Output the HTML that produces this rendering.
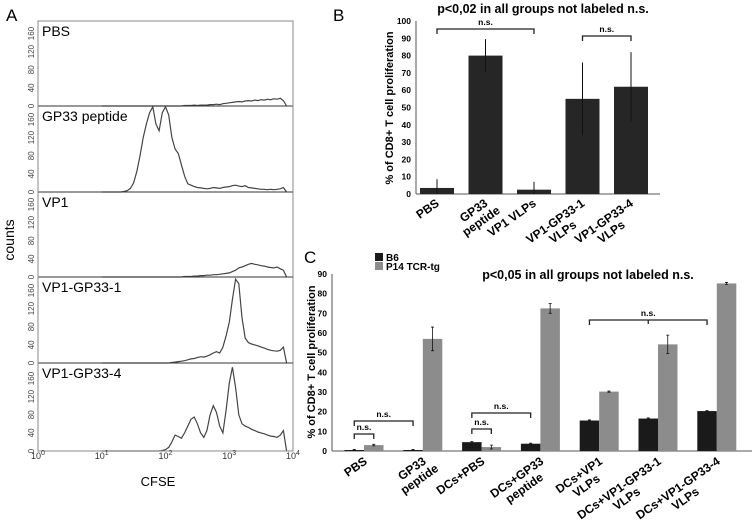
<!DOCTYPE html>
<html><head><meta charset="utf-8"><style>
body{margin:0;background:#fff;}
svg{display:block;font-family:"Liberation Sans",Arial,sans-serif;}
</style></head><body>
<svg id="fig" width="753" height="528" viewBox="0 0 753 528">
<text x="6" y="21" font-size="17">A</text>
<text x="333" y="21" font-size="17">B</text>
<text x="304" y="263" font-size="17">C</text>
<g id="pa"></g>
<g id="pb"></g>
<g id="pc"></g>
</svg>
<script>
const NS="http://www.w3.org/2000/svg";
function mk(p,t,a,txt){const e=document.createElementNS(NS,t);for(const k in a)e.setAttribute(k,a[k]);if(txt!==undefined)e.textContent=txt;p.appendChild(e);return e;}
function label(g,lines,x,y,fs){
 const t=mk(g,'text',{'font-size':fs,'font-weight':'bold','text-anchor':'end',transform:`translate(${x},${y}) rotate(-35)`});
 
 
 const sp=lines.map((s,k)=>mk(t,'tspan',{x:0,dy:k?fs+1:0},s));
 if(sp.length>1){const l0=sp[0].getComputedTextLength(),l1=sp[1].getComputedTextLength();
  sp[1].setAttribute('x',-(l0-l1)/2);}
}

// ---------- Panel A data ----------
const histNames=["PBS","GP33 peptide","VP1","VP1-GP33-1","VP1-GP33-4"];
const histLogStart=1.0, histLogStep=0.05;
const histPBS=[0,0,0,0,0,0,0,0,0,0,0,0,0,0,0,0,0,0,0,0,0,0,0,0,0,0,1,1,1,2,1,2,2,2,3,3,4,3,5,6,7,8,9,10,9,11,12,11,13,12,14,13,15,14,16,15,17,12,0];
const histGP33=[0,0,0,0,0,0,0,1,3,8,20,45,80,120,150,175,188,150,135,175,188,170,120,95,85,60,35,18,15,12,10,9,8,7,8,10,9,8,10,11,12,14,15,13,12,14,10,9,8,7,6,6,5,6,5,6,7,10,0];
const histVP1=[0,0,0,0,0,0,0,0,0,0,0,0,0,0,0,0,0,0,0,0,0,0,0,0,0,0,1,1,1,2,2,3,3,4,4,5,5,6,7,8,9,12,15,20,22,25,28,30,28,27,25,24,22,21,20,22,18,15,0];
const histVP1G1=[0,0,0,0,0,0,0,0,0,0,0,0,0,0,0,0,0,0,0,0,0,0,1,2,3,4,5,7,9,10,12,14,13,15,18,22,25,22,35,60,90,140,185,175,100,55,45,42,40,38,35,33,30,28,27,26,28,35,0];
const histVP1G4=[0,0,0,0,0,0,0,0,0,0,0,0,0,0,0,0,0,0,0,1,3,8,20,35,32,28,40,55,70,75,60,40,30,45,80,100,85,55,40,90,150,185,140,80,60,55,52,48,45,42,40,38,35,33,32,30,35,45,0];
const histSeries=[histPBS,histGP33,histVP1,histVP1G1,histVP1G4];
const histTicks=[0,40,80,120,160];
const decadeTicks=[0,1,2,3,4];

(function(){
 const g=document.getElementById('pa');
 const L=38,R=293,tops=[21,106,192,277,363],bot=451;
 const lx=v=>L+v*(R-L)/4;
 tops.forEach((t,i)=>{
  const b=(i<4?tops[i+1]:bot);
  const ys=c=>b-c*0.453;
  const pg=mk(g,'g',{});
  
  
  const pts=histSeries[i].map((c,k)=>lx(histLogStart+k*histLogStep).toFixed(1)+','+ys(c).toFixed(1)).join(' ');
  mk(pg,'polyline',{points:pts,fill:'none',stroke:'#444','stroke-width':1.2});
  mk(pg,'line',{x1:L,x2:R,y1:b,y2:b,stroke:'#333','stroke-width':1});
  mk(pg,'text',{x:42,y:t+15,'font-size':14},histNames[i]);
  histTicks.forEach(v=>{const y=ys(v);
   mk(pg,'text',{x:0,y:0,'font-size':8,fill:'#444','text-anchor':'middle',transform:`translate(34,${y}) rotate(-90)`},String(v));});
 });
 mk(g,'rect',{x:L,y:21,width:R-L,height:bot-21,fill:'none',stroke:'#888','stroke-width':1});
 decadeTicks.forEach(d=>{const t=mk(g,'text',{x:lx(d),y:459,'font-size':9,fill:'#333','text-anchor':'middle'});
  
  
  mk(t,'tspan',{},'10');mk(t,'tspan',{dy:-4,'font-size':7},String(d));});
 mk(g,'text',{x:158,y:486,'font-size':13,'text-anchor':'middle'},'CFSE');
 mk(g,'text',{x:0,y:0,'font-size':14,'text-anchor':'middle',transform:'translate(14,240) rotate(-90)'},'counts');
})();

// ---------- Panel B data ----------
const bCats=[["PBS"],["GP33","peptide"],["VP1 VLPs"],["VP1-GP33-1","VLPs"],["VP1-GP33-4","VLPs"]];
const bVals=[3.5,80,2.5,55,62];
const bErr=[5,9.5,4.5,21,20];
const bTicks=[0,10,20,30,40,50,60,70,80,90,100];
(function(){
 const g=document.getElementById('pb');
 const y=v=>194-v*1.73, cx=i=>437+i*48.5, w=34;
 mk(g,'text',{x:543,y:13,'font-size':12.5,'font-weight':'bold','text-anchor':'middle'},'p<0,02 in all groups not labeled n.s.');
 bTicks.forEach(v=>mk(g,'text',{x:411,y:y(v)+3,'font-size':8.5,'font-weight':'bold','text-anchor':'end'},String(v)));
 mk(g,'line',{x1:416,x2:416,y1:21,y2:194,stroke:'#555'});
 mk(g,'line',{x1:416,x2:660,y1:194,y2:194,stroke:'#555'});
 mk(g,'text',{x:0,y:0,'font-size':11,'font-weight':'bold','text-anchor':'middle',transform:'translate(393,108) rotate(-90)'},'% of CD8+ T cell proliferation');
 bVals.forEach((v,i)=>{
  const r=mk(g,'rect',{x:cx(i)-w/2,y:y(v),width:w,height:194-y(v),fill:'#262626'});
  
  
  mk(g,'line',{x1:cx(i),x2:cx(i),y1:y(v+bErr[i]),y2:y(Math.max(0,v-bErr[i])),stroke:'#111','stroke-width':1});
  label(g,bCats[i],cx(i)+3,205,12);
 });
 function br(x1,x2,yy,tx){mk(g,'path',{d:`M${x1},${yy+5}V${yy}H${x2}V${yy+5}`,fill:'none',stroke:'#222','stroke-width':1.3});
  mk(g,'text',{x:(x1+x2)/2,y:yy-4,'font-size':8.5,'font-weight':'bold','text-anchor':'middle'},tx);}
 br(cx(0),cx(2),29,'n.s.');br(cx(3),cx(4),36,'n.s.');
})();

// ---------- Panel C data ----------
const cCats=[["PBS"],["GP33","peptide"],["DCs+PBS"],["DCs+GP33","peptide"],["DCs+VP1","VLPs"],["DCs+VP1-GP33-1","VLPs"],["DCs+VP1-GP33-4","VLPs"]];
const cB6=[0.5,0.5,4.5,3.7,15.5,16.5,20.3];
const cB6Err=[0.3,0.3,0.4,0.3,0.3,0.3,0.3];
const cP14=[3,57,2,72.5,30.2,54.2,85.2];
const cP14Err=[0.4,6,1,2.5,0.3,4.7,0.5];
const cTicks=[0,10,20,30,40,50,60,70,80,90];
(function(){
 const g=document.getElementById('pc');
 const y=v=>451-v*1.967, cx=i=>364+i*58.8, w=19.5;
 mk(g,'text',{x:588,y:279,'font-size':12.5,'font-weight':'bold','text-anchor':'middle'},'p<0,05 in all groups not labeled n.s.');
 cTicks.forEach(v=>mk(g,'text',{x:327,y:y(v)+3,'font-size':8.5,'font-weight':'bold','text-anchor':'end'},String(v)));
 mk(g,'line',{x1:332,x2:332,y1:274,y2:451,stroke:'#555'});
 mk(g,'line',{x1:332,x2:752,y1:451,y2:451,stroke:'#555'});
 mk(g,'text',{x:0,y:0,'font-size':11,'font-weight':'bold','text-anchor':'middle',transform:'translate(315,362) rotate(-90)'},'% of CD8+ T cell proliferation');
 const lg=mk(g,'g',{});
 
 
 mk(lg,'rect',{x:375,y:253,width:8,height:8,fill:'#1a1a1a'});
 mk(lg,'text',{x:386,y:261,'font-size':10,'font-weight':'bold'},'B6');
 mk(lg,'rect',{x:375,y:262,width:8,height:8,fill:'#8c8c8c'});
 mk(lg,'text',{x:386,y:270,'font-size':10,'font-weight':'bold'},'P14 TCR-tg');
 cCats.forEach((c,i)=>{
  const b1=mk(g,'rect',{x:cx(i)-w,y:y(cB6[i]),width:w,height:451-y(cB6[i]),fill:'#1a1a1a'});
  
  
  const b2=mk(g,'rect',{x:cx(i),y:y(cP14[i]),width:w,height:451-y(cP14[i]),fill:'#8c8c8c'});
  
  
  [[cx(i)-w/2,cB6[i],cB6Err[i]],[cx(i)+w/2,cP14[i],cP14Err[i]]].forEach(([x,v,e])=>{
   mk(g,'path',{d:`M${x},${y(v+e)}V${y(Math.max(0,v-e))}M${x-1.5},${y(v+e)}h3M${x-1.5},${y(Math.max(0,v-e))}h3`,stroke:'#111','stroke-width':0.8,fill:'none'});});
  label(g,c,cx(i)+4,463,12);
 });
 function br(x1,x2,yy,mid){mk(g,'path',{d:`M${x1},${yy+5}V${yy}H${x2}V${yy+5}`+(mid?`M${mid},${yy}v4`:''),fill:'none',stroke:'#222','stroke-width':1.3});
  mk(g,'text',{x:mid||(x1+x2)/2,y:yy-4,'font-size':8.5,'font-weight':'bold','text-anchor':'middle'},'n.s.');}
 br(cx(0)-w/2,cx(0)+w/2,434);br(cx(0)-w/2,cx(1)-w/2,421);
 br(cx(2)-w/2,cx(2)+w/2,429);br(cx(2)-w/2,cx(3)-w/2,413);
 br(cx(4)-w/2,cx(6)-w/2,320,cx(5)-w/2);
})();
</script>
</body></html>
